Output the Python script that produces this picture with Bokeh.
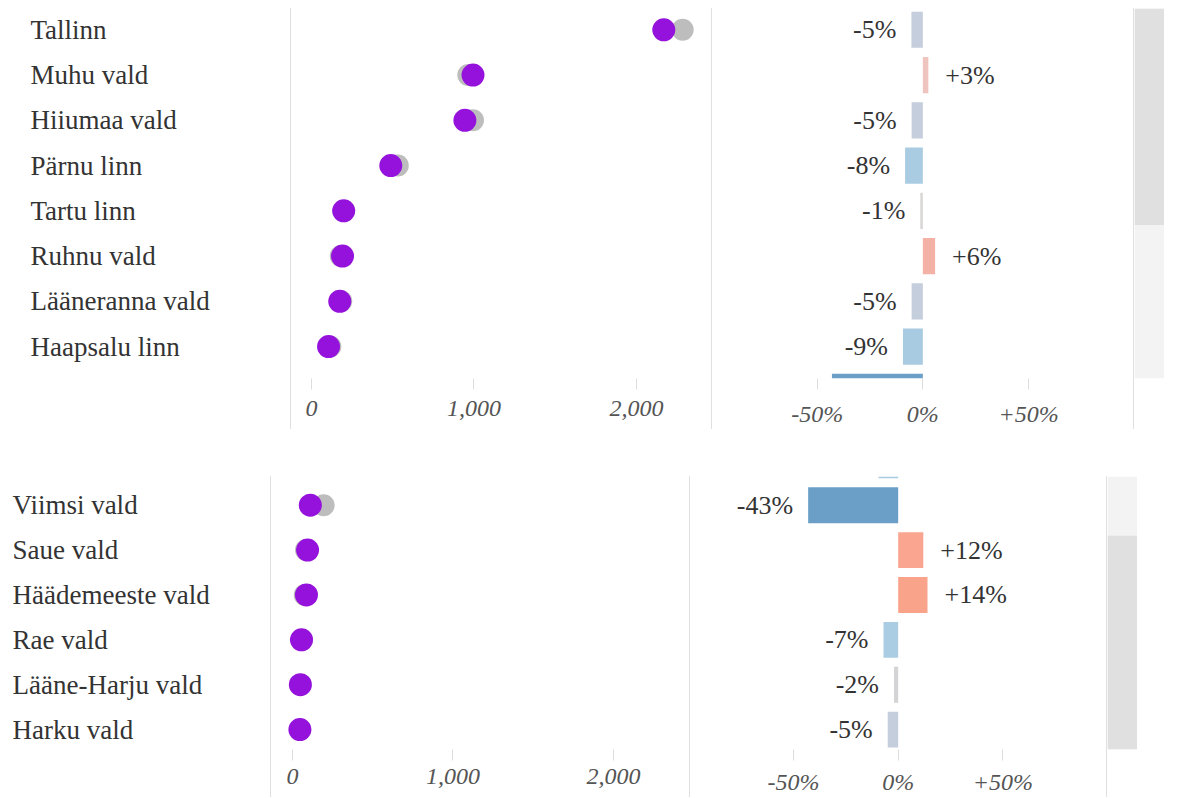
from bokeh.plotting import figure
from bokeh.layouts import row, column
from bokeh.models import (Range1d, ColumnDataSource, FixedTicker, NumeralTickFormatter,
                          LinearColorMapper, LinearAxis, Div, Spacer)
from bokeh.transform import transform
from bokeh.core.properties import value
from bokeh.embed import file_html
from bokeh.resources import INLINE

# ---------------- data ----------------
names = ["Tallinn", "Muhu vald", "Hiiumaa vald", "Pärnu linn", "Tartu linn", "Ruhnu vald",
         "Lääneranna vald", "Haapsalu linn", "Viimsi vald", "Saue vald", "Häädemeeste vald",
         "Rae vald", "Lääne-Harju vald", "Harku vald"]
current = [2168, 994, 944, 488, 198, 191, 174, 105, 111, 94, 87, 56, 49, 46]
previous = [2284, 965, 994, 531, 201, 180, 183, 116, 194, 84, 76, 60, 50, 48]
change_pct = [-5.4, 2.6, -5.3, -8.4, -1.2, 5.8, -5.3, -9.4, -43.0, 12.0, 14.0, -7.0, -2.0, -5.0]
dot_ticks = [0, 1000, 2000]
pct_ticks = [-50, 0, 50]
pct_tick_labels = ["-50%", "0%", "+50%"]

# ---------------- styles ----------------
SERIF = value("Liberation Serif")
PURPLE = "#9412dc"
GREY_DOT = "#bdbdbd"
DIVIDER = "#e0e0e0"
TEXT = "#333333"
TICK_TEXT = "#555555"
BAR_H = 0.8


def hex2rgb(h):
    h = h.lstrip("#")
    return tuple(int(h[i:i + 2], 16) for i in (0, 2, 4))


def build_palette():
    anchors = [(-50, "#6a9bc6"), (-43, "#6b9fc8"), (-20, "#8db6d6"), (-9, "#a8cbe2"),
               (-7, "#abcde3"), (-6, "#b9cde0"), (-5, "#c4cedc"), (-3, "#d0d3d8"),
               (-1, "#d9d6d5"), (0, "#dcdcdc"), (2, "#ecccc6"), (3, "#efc4be"),
               (6, "#f4b1a6"), (12, "#f9a590"), (14, "#f9a38b"), (50, "#f58a6c")]
    pal = []
    for v in range(-50, 51):
        for (a, ca), (b, cb) in zip(anchors[:-1], anchors[1:]):
            if a <= v <= b:
                t = (v - a) / (b - a) if b != a else 0
                r1, g1, b1 = hex2rgb(ca)
                r2, g2, b2 = hex2rgb(cb)
                pal.append("#%02x%02x%02x" % (round(r1 + (r2 - r1) * t),
                                               round(g1 + (g2 - g1) * t),
                                               round(b1 + (b2 - b1) * t)))
                break
    return pal


mapper = LinearColorMapper(palette=build_palette(), low=-50.5, high=50.5)

idx = list(range(len(names)))


def subset(rows):
    return ColumnDataSource(dict(y=rows, name=[names[i] for i in rows],
                                 cur=[current[i] for i in rows],
                                 prev=[previous[i] for i in rows],
                                 pct=[change_pct[i] for i in rows],
                                 lab=["%+.0f%%" % change_pct[i] for i in rows]))


def base_fig(w, h, xr, yr, mb):
    p = figure(width=w, height=h, x_range=xr, y_range=yr, toolbar_location=None,
               output_backend="svg", min_border=0, min_border_bottom=mb,
               x_axis_location=None, y_axis_location=None, outline_line_color=None,
               background_fill_color="white", border_fill_color="white")
    p.xgrid.visible = False
    p.ygrid.visible = False
    return p


def style_axis(ax, tick_out, standoff):
    ax.axis_line_color = None
    ax.major_tick_in = 0
    ax.major_tick_out = tick_out
    ax.major_tick_line_color = "#dddddd"
    ax.major_tick_line_width = 1
    ax.minor_tick_line_color = None
    ax.major_label_text_font = "Liberation Serif"
    ax.major_label_text_font_style = "italic"
    ax.major_label_text_font_size = "24px"
    ax.major_label_text_color = TICK_TEXT
    ax.major_label_standoff = standoff


def divider(h):
    return Div(width=1, height=h, margin=0, styles={"background-color": DIVIDER})


def panel(cfg):
    fh, ah, band, ytop = cfg["frame_h"], cfg["axis_h"], cfg["band"], cfg["y_top"]
    full = fh + ah
    ybot = ytop + fh / band
    yr = Range1d(ybot, ytop)

    # rows touching this scrolled view, and rows whose text fits fully inside it
    seen = [i for i in idx if i + BAR_H / 2 > ytop and i - BAR_H / 2 < ybot]
    vis = [i for i in idx if ytop + 0.3 <= i <= ybot - 0.3]
    row_src = subset(seen)
    lab_src = subset(vis)
    neg_src = subset([i for i in vis if change_pct[i] < 0])
    pos_src = subset([i for i in vis if change_pct[i] >= 0])

    # labels
    pl = base_fig(cfg["label_w"], full, Range1d(0, cfg["label_w"]), yr, ah)
    pl.text(x=cfg["label_x"], y="y", text="name", source=lab_src, text_font=SERIF,
            text_font_size="27px", text_color=TEXT, text_align="left",
            text_baseline="middle")

    # dot plot
    pd = base_fig(cfg["dot_w"], full, Range1d(*cfg["dot_range"]), yr, ah)
    pd.scatter(x="prev", y="y", source=row_src, size=22, fill_color=GREY_DOT, line_color=None)
    pd.scatter(x="cur", y="y", source=row_src, size=23, fill_color=PURPLE, line_color=None)
    ax = LinearAxis(ticker=FixedTicker(ticks=dot_ticks),
                    formatter=NumeralTickFormatter(format="0,0"))
    style_axis(ax, cfg["tick_out"], cfg["standoff"])
    pd.add_layout(ax, "below")

    # bars
    pb = base_fig(cfg["bar_w"], full, Range1d(*cfg["bar_range"]), yr, ah)
    pb.hbar(y="y", left=0, right="pct", height=BAR_H, source=row_src,
            fill_color=transform("pct", mapper), line_color=None)
    pb.text(x="pct", y="y", text="lab", source=neg_src, x_offset=-15, text_align="right",
            text_baseline="middle", text_font=SERIF, text_font_size="26px", text_color=TEXT)
    pb.text(x="pct", y="y", text="lab", source=pos_src, x_offset=17, text_align="left",
            text_baseline="middle", text_font=SERIF, text_font_size="26px", text_color=TEXT)
    bx = LinearAxis(ticker=FixedTicker(ticks=pct_ticks),
                    major_label_overrides={t: l for t, l in zip(pct_ticks, pct_tick_labels)})
    style_axis(bx, cfg["tick_out"], cfg["standoff"])
    pb.add_layout(bx, "below")

    # scroll track
    ps = base_fig(cfg["scroll_w"], full, Range1d(0, 1), Range1d(1, 0), ah)
    ps.quad(left=0, right=1, top=0, bottom=1, fill_color="#f3f3f3", line_color=None)
    ps.quad(left=0, right=1, top=cfg["thumb"][0], bottom=cfg["thumb"][1],
            fill_color="#e0e0e0", line_color=None)

    return row([pl, divider(full), pd, divider(full), pb, divider(full), ps], spacing=0)


TOP = dict(label_w=290, dot_w=420, bar_w=421, scroll_w=30, frame_h=372, axis_h=49,
           label_x=30, dot_range=(-123, 2461.6), bar_range=(-99.5, 99.65), y_top=-0.47,
           band=45.5, thumb=(0, 0.585), tick_out=11, standoff=11)
BOTTOM = dict(label_w=270, dot_w=418, bar_w=416, scroll_w=30, frame_h=275, axis_h=46,
              label_x=12, dot_range=(-130.8, 2473.5), bar_range=(-99.2, 99.5), y_top=7.36,
              band=45.2, thumb=(0.217, 1.0), tick_out=11, standoff=8)

layout = column([Spacer(height=8), panel(TOP), Spacer(height=47), panel(BOTTOM)], spacing=0)

open("out.html", "w").write(file_html(layout, INLINE))
